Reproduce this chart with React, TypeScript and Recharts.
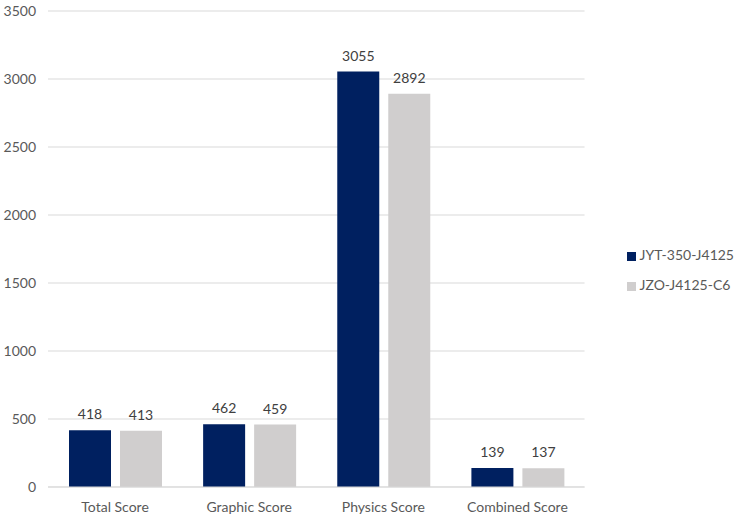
import React from 'react';
import { BarChart, Bar, XAxis, YAxis, CartesianGrid, Legend, LabelList } from 'recharts';

const categories = ['Total Score', 'Graphic Score', 'Physics Score', 'Combined Score'];
const jytScores = [418, 462, 3055, 139];
const jzoScores = [413, 459, 2892, 137];
const yTicks = [0, 500, 1000, 1500, 2000, 2500, 3000, 3500];

const data = categories.map((name, i) => ({
  name,
  jyt: jytScores[i],
  jzo: jzoScores[i],
}));

const font = 'Lato, "Open Sans", sans-serif';

const App = () => {
  return (
    <div style={{ position: 'absolute', left: 0, top: 0, width: 746, height: 526, background: '#fff', fontFamily: font }}>
      <BarChart
        width={746}
        height={526}
        data={data}
        margin={{ top: 11, right: 44, left: 0, bottom: 0 }}
        barCategoryGap={21}
        barGap={9}
      >
        <CartesianGrid vertical={false} stroke="#d9d9d9" />
        <XAxis
          dataKey="name"
          height={39}
          tickLine={false}
          axisLine={{ stroke: '#d9d9d9' }}
          tickMargin={9}
          tick={{ fill: '#595959', fontSize: 14, fontFamily: font }}
        />
        <YAxis
          width={48}
          domain={[0, 3500]}
          ticks={yTicks}
          axisLine={false}
          tickLine={false}
          tickSize={0}
          tickMargin={12}
          tick={{ fill: '#595959', fontSize: 14, fontFamily: font }}
        />
        <Legend
          layout="vertical"
          align="right"
          verticalAlign="middle"
          iconType="square"
          iconSize={9}
          wrapperStyle={{ right: 2, top: 240, fontSize: 14, fontFamily: font, lineHeight: '30px' }}
          formatter={(value) => <span style={{ color: '#595959' }}>{value}</span>}
        />
        <Bar dataKey="jyt" name="JYT-350-J4125" fill="#002060" isAnimationActive={false}>
          <LabelList dataKey="jyt" position="top" offset={11} fill="#404040" fontSize={14} fontFamily={font} />
        </Bar>
        <Bar dataKey="jzo" name="JZO-J4125-C6" fill="#d0cece" isAnimationActive={false}>
          <LabelList dataKey="jzo" position="top" offset={11} fill="#404040" fontSize={14} fontFamily={font} />
        </Bar>
      </BarChart>
    </div>
  );
};

export default App;
